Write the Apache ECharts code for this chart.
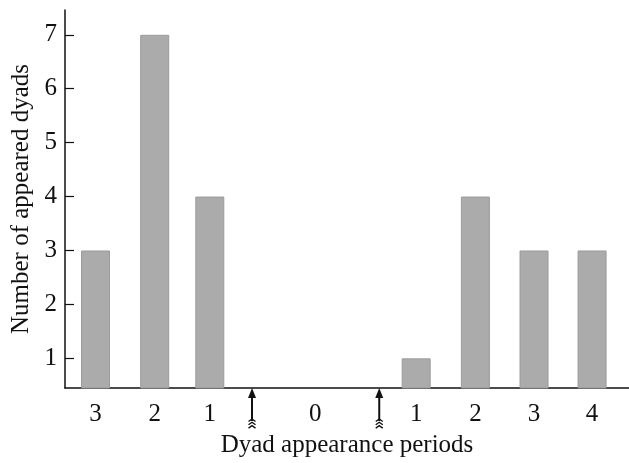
<!DOCTYPE html>
<html>
<head>
<meta charset="utf-8">
<script src="https://cdn.jsdelivr.net/npm/echarts@6/dist/echarts.min.js"></script>
<style>
  html, body { margin: 0; padding: 0; background: #fff; }
  #chart { width: 629px; height: 463px; }
</style>
</head>
<body>
<div id="chart"></div>
<script>
// bar positions along the period axis (slot units), period labels and counts
const barPositions = [0.52, 1.53, 2.47, 5.99, 7.00, 8.00, 8.99];
const barLabels = ['3', '2', '1', '1', '2', '3', '4'];
const dyadCounts = [3, 7, 4, 1, 4, 3, 3];
// the "0" period sits between the two arrows
const zeroPosition = 4.27;
const arrowPositions = [3.19, 5.36];
const yTicks = [1, 2, 3, 4, 5, 6, 7];

const Y_MIN = 0.45;
const FONT = 'Liberation Serif';
const FONT_SIZE = 25;

const labelPositions = barPositions.concat([zeroPosition]);
const labelText = barLabels.concat(['0']);

const chart = echarts.init(document.getElementById('chart'));

const option = {
  animation: false,
  grid: { left: 65, right: 0, top: 10, bottom: 71 },
  xAxis: {
    type: 'value',
    min: 0,
    max: 9.62,
    name: 'Dyad appearance periods',
    nameLocation: 'middle',
    nameGap: 45,
    nameTextStyle: { fontFamily: FONT, fontSize: FONT_SIZE, color: '#111' },
    axisLine: { lineStyle: { color: '#111', width: 1.5 } },
    axisTick: { show: false },
    splitLine: { show: false },
    axisLabel: {
      customValues: labelPositions,
      fontFamily: FONT, fontSize: FONT_SIZE, color: '#111', margin: 14,
      formatter: function (v) {
        for (let i = 0; i < labelPositions.length; i++) {
          if (Math.abs(labelPositions[i] - v) < 1e-6) return labelText[i];
        }
        return '';
      }
    }
  },
  yAxis: {
    type: 'value',
    min: Y_MIN,
    max: 7.46,
    name: 'Number of appeared dyads',
    nameLocation: 'middle',
    nameGap: 31,
    nameTextStyle: { fontFamily: FONT, fontSize: FONT_SIZE, color: '#111' },
    axisLine: { show: true, lineStyle: { color: '#111', width: 1.5 } },
    axisTick: { show: true, inside: true, length: 9, customValues: yTicks,
                lineStyle: { color: '#111', width: 1.2 } },
    splitLine: { show: false },
    axisLabel: { customValues: yTicks, fontFamily: FONT, fontSize: FONT_SIZE, color: '#111', margin: 8 }
  },
  series: [
    {
      type: 'bar',
      barWidth: 29,
      data: barPositions.map((x, i) => [x, dyadCounts[i]]),
      itemStyle: { color: '#aaabaa', borderColor: '#9a9b9a', borderWidth: 1 }
    },
    {
      // feathered arrows under the axis marking the start/end of period 0
      type: 'custom',
      clip: false,
      data: arrowPositions.map(x => [x]),
      renderItem: function (params, api) {
        const p = api.coord([api.value(0), Y_MIN]);
        const x = p[0], y = p[1];
        const children = [
          { type: 'line', shape: { x1: x, y1: y + 6, x2: x, y2: y + 33 },
            style: { stroke: '#111', lineWidth: 2 } },
          { type: 'polygon', shape: { points: [[x, y], [x - 4, y + 10], [x + 4, y + 10]] },
            style: { fill: '#111' } }
        ];
        for (let k = 0; k < 3; k++) {
          const cy = y + 31 + k * 3.3;
          children.push({ type: 'polyline',
            shape: { points: [[x - 3.5, cy + 2.5], [x, cy], [x + 3.5, cy + 2.5]] },
            style: { stroke: '#111', lineWidth: 1.4, fill: null } });
        }
        return { type: 'group', children: children };
      }
    }
  ]
};

chart.setOption(option);
</script>
</body>
</html>
